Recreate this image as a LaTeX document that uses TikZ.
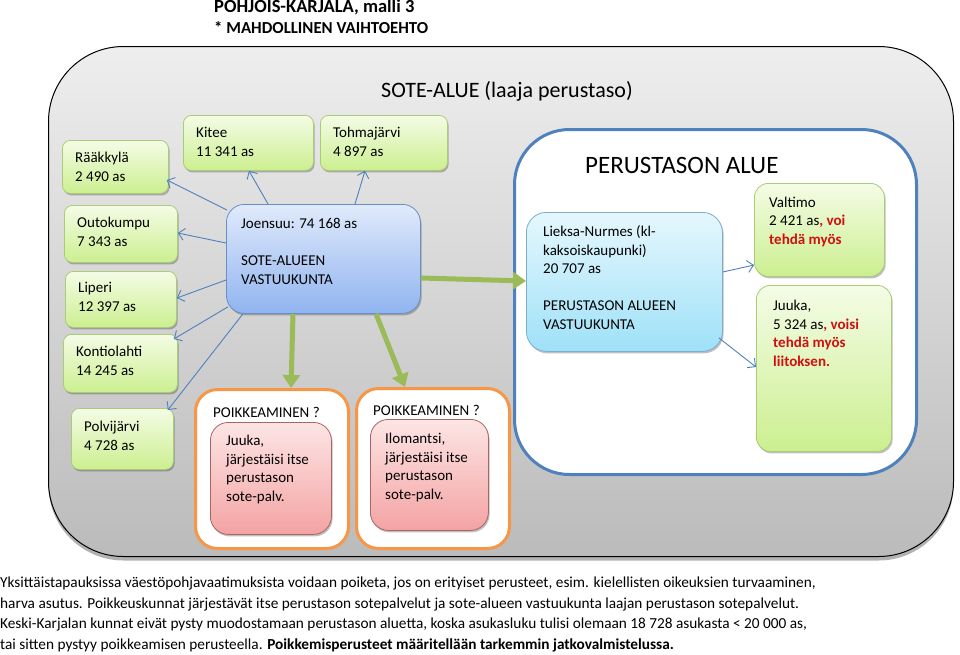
\documentclass[tikz,border=0pt]{standalone}
\usepackage{fontspec}
\setmainfont{Carlito}
\usetikzlibrary{arrows.meta,calc,shadows}
\definecolor{gtop}{HTML}{F4FCE6}
\definecolor{gbot}{HTML}{CCEF90}
\definecolor{gline}{HTML}{AACB78}
\definecolor{btop}{HTML}{E0EAFB}
\definecolor{bbot}{HTML}{90B4F0}
\definecolor{bline}{HTML}{6A8FC6}
\definecolor{ctop}{HTML}{E6F7FD}
\definecolor{cbot}{HTML}{9EE1F8}
\definecolor{cline}{HTML}{7AAFCB}
\definecolor{rtop}{HTML}{FDE5E5}
\definecolor{rbot}{HTML}{F4A3A3}
\definecolor{rline}{HTML}{A86562}
\definecolor{orng}{HTML}{F79646}
\definecolor{blueln}{HTML}{4F81BD}
\definecolor{garrow}{HTML}{9BBB59}
\definecolor{redt}{HTML}{D01010}
\definecolor{bgtop}{HTML}{EEEEEE}
\definecolor{bgbot}{HTML}{BBBBBB}
\begin{document}
\begin{tikzpicture}[x=1pt,y=-1pt,
  shad/.style={drop shadow={shadow xshift=1.2pt,shadow yshift=-2pt,opacity=0.25,fill=black}},
  boxbase/.style={anchor=north west,inner sep=0pt,shad},
  gbox/.style={boxbase,draw=gline,line width=0.8pt,rounded corners=8pt,top color=gtop,bottom color=gbot},
  gbigbox/.style={boxbase,draw=gline,line width=0.8pt,rounded corners=14pt,top color=gtop,bottom color=gbot},
  jbox/.style={boxbase,draw=bline,line width=0.8pt,rounded corners=18pt,top color=btop,bottom color=bbot},
  lbox/.style={boxbase,draw=cline,line width=0.8pt,rounded corners=20pt,top color=ctop,bottom color=cbot},
  rbox/.style={boxbase,draw=rline,line width=0.8pt,rounded corners=18pt,top color=rtop,bottom color=rbot},
  obox/.style={anchor=north west,inner sep=0pt,draw=orng,line width=3pt,rounded corners=22pt,fill=white},
  txt/.style={anchor=base west,align=left,inner sep=0pt,font=\fontsize{15}{18.5}\selectfont},
  thin/.style={draw=blueln,line width=0.9pt,-{Straight Barb[length=6pt,width=12pt]}},
  thick/.style={draw=garrow,line width=5pt,-{Triangle[length=13pt,width=17pt]}}]
\useasboundingbox (0,0) rectangle (960,654);
\fill[white] (0,0) rectangle (960,654);

% title (anchor = baseline of last line)
\node[txt,font=\fontsize{17}{21}\selectfont\bfseries] (title) at (214,33) {{\fontsize{18.5}{21}\selectfont POHJOIS-KARJALA, malli 3}\\{\fontsize{16.8}{21}\selectfont * MAHDOLLINEN VAIHTOEHTO}};

% big area
\node[anchor=north west,inner sep=0pt,draw=black,line width=1pt,rounded corners=75pt,
  top color=bgtop,bottom color=bgbot,minimum width=905,minimum height=510,
  drop shadow={shadow xshift=0pt,shadow yshift=-4pt,opacity=0.3,fill=black}] (sote) at (48,46) {};
\node[txt,font=\fontsize{22}{26}\selectfont] (soteT) at (381,97) {SOTE-ALUE (laaja perustaso)};

% perustason alue
\node[anchor=north west,inner sep=0pt,draw=blueln,line width=3pt,rounded corners=55pt,fill=white,
  minimum width=402,minimum height=345] (per) at (513,128) {};
\node[txt,font=\fontsize{25}{28}\selectfont] (perT) at (585,173) {PERUSTASON ALUE};

% green boxes
\node[gbox,minimum width=106,minimum height=53] (raak) at (62,140) {};
\node[txt] (raakT) at (75,181) {Rääkkylä\\2 490 as};
\node[gbox,minimum width=130,minimum height=55] (kit) at (183,115) {};
\node[txt] (kitT) at (196,156) {Kitee\\11 341 as};
\node[gbox,minimum width=127,minimum height=55] (toh) at (320,115) {};
\node[txt] (tohT) at (333,156) {Tohmajärvi\\4 897 as};
\node[gbox,minimum width=113,minimum height=57] (outo) at (64,205) {};
\node[txt] (outoT) at (77,246) {Outokumpu\\7 343 as};
\node[gbox,minimum width=111,minimum height=56] (lip) at (65,271) {};
\node[txt] (lipT) at (78,311) {Liperi\\12 397 as};
\node[gbox,minimum width=114,minimum height=58] (kon) at (63,334) {};
\node[txt] (konT) at (76,375) {Kontiolahti\\14 245 as};
\node[gbox,minimum width=102,minimum height=61] (pol) at (71,408) {};
\node[txt] (polT) at (84,450) {Polvijärvi\\4 728 as};

% Joensuu
\node[jbox,minimum width=194,minimum height=109] (joe) at (226,204) {};
\node[txt] (joeT) at (241,284) {Joensuu: 74 168 as\\[18.5pt]SOTE-ALUEEN\\VASTUUKUNTA};

% orange boxes
\node[obox,minimum width=153,minimum height=159] (or1) at (194,388) {};
\node[txt] (or1T) at (213,417) {POIKKEAMINEN ?};
\node[rbox,minimum width=121,minimum height=112] (red1) at (210,422) {};
\node[txt] (red1T) at (226,501) {Juuka,\\järjestäisi itse\\perustason\\sote-palv.};
\node[obox,minimum width=153,minimum height=160] (or2) at (355,387) {};
\node[txt] (or2T) at (373,415) {POIKKEAMINEN ?};
\node[rbox,minimum width=118,minimum height=111] (red2) at (370,419) {};
\node[txt] (red2T) at (385,499) {Ilomantsi,\\järjestäisi itse\\perustason\\sote-palv.};

% Lieksa
\node[lbox,minimum width=196,minimum height=139] (lie) at (526,212) {};
\node[txt] (lieT) at (543,329) {Lieksa-Nurmes (kl-\\kaksoiskaupunki)\\20 707 as\\[18.5pt]PERUSTASON ALUEEN\\VASTUUKUNTA};

% Valtimo, Juuka
\node[gbigbox,minimum width=130,minimum height=93] (val) at (754,183) {};
\node[txt] (valT) at (769,244) {Valtimo\\2 421 as{\color{redt}\bfseries, voi}\\{\color{redt}\bfseries tehdä myös}};
\node[gbigbox,minimum width=135,minimum height=166] (juu) at (756,285) {};
\node[txt] (juuT) at (773,366) {Juuka,\\5 324 as{\color{redt}\bfseries, voisi}\\{\color{redt}\bfseries tehdä myös}\\{\color{redt}\bfseries liitoksen.}};

% thin arrows
\draw[thin] ($(joe.north west)+(1,6)$) -- ($(raak.north east)+(-2,40)$);
\draw[thin] ($(joe.north west)+(42,0)$) -- ($(kit.south west)+(66,0)$);
\draw[thin] ($(joe.north west)+(129,0)$) -- ($(toh.south west)+(45,0)$);
\draw[thin] ($(joe.north west)+(0,39)$) -- ($(outo.north east)+(0,28)$);
\draw[thin] ($(joe.north west)+(0,76)$) -- ($(lip.north east)+(0,27)$);
\draw[thin] ($(joe.south west)+(2,-7)$) -- ($(kon.north east)+(-4,5)$);
\draw[thin] ($(joe.south west)+(17,0)$) -- ($(pol.north east)+(-6,2)$);
\draw[thin] ($(lie.north east)+(0,60)$) -- ($(val.north west)+(0,82)$);
\draw[thin] ($(lie.south east)+(-4,-14)$) -- ($(juu.north west)+(0,82)$);

% thick arrows
\draw[thick] ($(joe.south west)+(67,0)$) -- ($(or1.north west)+(97,0)$);
\draw[thick] ($(joe.south west)+(150,0)$) -- ($(or2.north west)+(50,0)$);
\draw[thick] ($(joe.north east)+(0,74)$) -- ($(lie.north west)+(0,69)$);

% footer (anchor = baseline of last line)
\node[txt,font=\fontsize{15.3}{20.5}\selectfont] (foot) at (0,649) {Yksittäistapauksissa väestöpohjavaatimuksista voidaan poiketa, jos on erityiset perusteet, esim. kielellisten oikeuksien turvaaminen,\\harva asutus. Poikkeuskunnat järjestävät itse perustason sotepalvelut ja sote-alueen vastuukunta laajan perustason sotepalvelut.\\Keski-Karjalan kunnat eivät pysty muodostamaan perustason aluetta, koska asukasluku tulisi olemaan 18 728 asukasta < 20 000 as,\\tai sitten pystyy poikkeamisen perusteella. \textbf{Poikkemisperusteet määritellään tarkemmin jatkovalmistelussa.}};
\end{tikzpicture}
\end{document}
